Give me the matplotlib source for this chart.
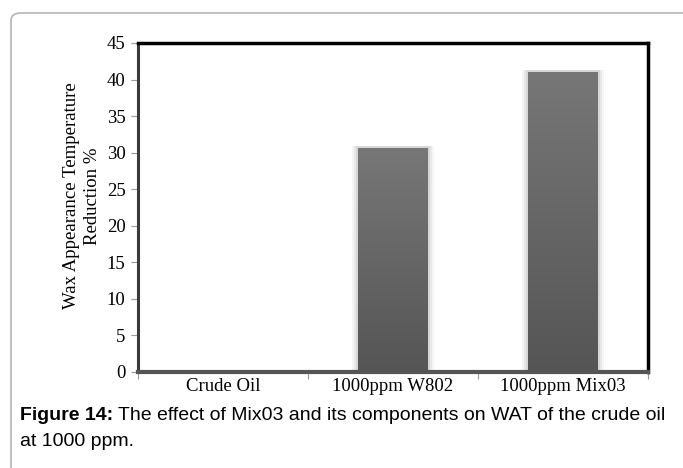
import matplotlib
matplotlib.use("Agg")
import matplotlib.pyplot as plt
import numpy as np
from matplotlib.patches import FancyBboxPatch
from matplotlib.colors import LinearSegmentedColormap

## Data
categories = ["Crude Oil", "1000ppm W802", "1000ppm Mix03"]
wat_reduction = [0.0, 30.7, 41.1]
y_ticks = [0, 5, 10, 15, 20, 25, 30, 35, 40, 45]

## Figure
fig = plt.figure(figsize=(6.83, 4.68), dpi=100)

# Outer rounded frame (cut off at right and bottom)
frame = FancyBboxPatch((11 / 683, -0.2), 1.2, 1.2 - 13 / 468,
                       boxstyle="round,pad=0,rounding_size=0.015",
                       transform=fig.transFigure, fill=False,
                       edgecolor="#b5b5b5", linewidth=1.2)
fig.patches.append(frame)

ax = fig.add_axes([138 / 683, 1 - 372 / 468, 510 / 683, 329 / 468])

x = np.arange(len(categories))
bars = ax.bar(x, wat_reduction, width=0.41, color="#636363", zorder=3)

# vertical gradient fill + soft shadow on each bar
bar_cmap = LinearSegmentedColormap.from_list("bar", ["#555555", "#777777"])
grad = np.linspace(0, 1, 256).reshape(-1, 1)
for b in bars:
    h = b.get_height()
    if h <= 0:
        continue
    x0 = b.get_x()
    w = b.get_width()
    for k, a in zip([0.035, 0.022, 0.01], [0.04, 0.05, 0.07]):
        ax.bar(x0 + w / 2, h + 0.15, width=w + 2 * k, bottom=0,
               color="black", alpha=a, zorder=2, linewidth=0)
    im = ax.imshow(grad, extent=[x0, x0 + w, 0, h], origin="lower",
                   cmap=bar_cmap, aspect="auto", zorder=4)
    im.set_clip_path(b)

ax.set_xlim(-0.5, 2.5)
ax.set_ylim(0, 45)
ax.set_yticks(y_ticks)
ax.set_yticklabels([str(v) for v in y_ticks], fontsize=13.5,
                   family="Liberation Serif")
ax.set_xticks(x)
ax.set_xticklabels(categories, fontsize=13.5, family="Liberation Serif")
ax.set_xticks([-0.5, 0.5, 1.5, 2.5], minor=True)
ax.tick_params(axis="x", which="major", length=0, pad=4)
ax.tick_params(axis="x", which="minor", length=5, color="#999999", width=0.8)
ax.tick_params(axis="y", length=5, color="#999999", width=0.8, pad=4)

for side in ["top", "right"]:
    ax.spines[side].set_linewidth(2.5)
    ax.spines[side].set_color("black")
ax.spines["left"].set_linewidth(2.2)
ax.spines["left"].set_color("#3a3a3a")
ax.spines["bottom"].set_linewidth(3)
ax.spines["bottom"].set_color("#555555")
ax.spines["bottom"].set_zorder(5)

ax.set_ylabel("Wax Appearance Temperature\nReduction %", fontsize=13.5,
              family="Liberation Serif", linespacing=1.3)
ax.yaxis.set_label_coords(-0.072, 0.535)

## Caption
cap_x = 20 / 683
t1 = fig.text(cap_x, 1 - 415 / 468, "Figure 14:", fontsize=14, weight="bold",
              family="Liberation Sans", va="center")
fig.canvas.draw()
bb = t1.get_window_extent()
fig.text(bb.x1 / fig.bbox.width, 1 - 415 / 468,
         " The effect of Mix03 and its components on WAT of the crude oil",
         fontsize=14, family="Liberation Sans", va="center")
fig.text(cap_x, 1 - 441 / 468, "at 1000 ppm.", fontsize=14,
         family="Liberation Sans", va="center")

fig.savefig("out.png", dpi=100)
